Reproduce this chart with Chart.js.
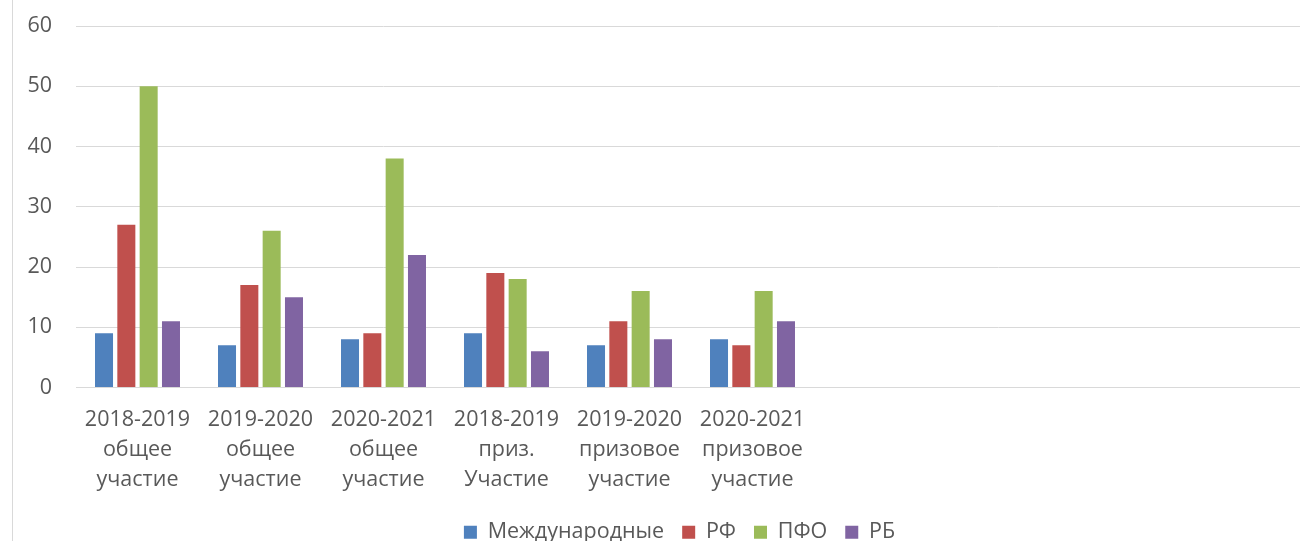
<!DOCTYPE html>
<html>
<head>
<meta charset="utf-8">
<script src="https://cdn.jsdelivr.net/npm/chart.js@4.4.1/dist/chart.umd.min.js"></script>
<style>
  html, body { margin: 0; padding: 0; background: #fff; overflow: hidden; width: 1300px; height: 541px; }
  #frame { position: absolute; left: 12px; top: 0; width: 1px; height: 541px; background: #d9d9d9; }
  #wrap { position: absolute; left: 13px; top: 0; width: 1293px; height: 541px; }
</style>
</head>
<body>
<div id="frame"></div>
<div id="wrap"><canvas id="c" width="1293" height="541"></canvas></div>
<script>
const categories = [
  ['2018-2019', 'общее', 'участие'],
  ['2019-2020', 'общее', 'участие'],
  ['2020-2021', 'общее', 'участие'],
  ['2018-2019', 'приз.', 'Участие'],
  ['2019-2020', 'призовое', 'участие'],
  ['2020-2021', 'призовое', 'участие'],
  '', '', '', ''
];
const seriesNames = ['Международные', 'РФ', 'ПФО', 'РБ'];
const intl = [9, 7, 8, 9, 7, 8, null, null, null, null];
const rf   = [27, 17, 9, 19, 11, 7, null, null, null, null];
const pfo  = [50, 26, 38, 18, 16, 16, null, null, null, null];
const rb   = [11, 15, 22, 6, 8, 11, null, null, null, null];
const yTicks = [0, 10, 20, 30, 40, 50, 60];
const colors = ['#4F81BD', '#C0504D', '#9BBB59', '#8064A2'];

const FONT = '"Open Sans", "Noto Sans", sans-serif';
const values = [intl, rf, pfo, rb];

const legendShift = {
  id: 'legendShift',
  afterLayout(chart) {
    if (chart.legend) { chart.legend.left += 20; chart.legend.right += 20; }
  }
};

new Chart(document.getElementById('c'), {
  type: 'bar',
  data: {
    labels: categories,
    datasets: values.map((v, i) => ({
      label: seriesNames[i],
      data: v,
      backgroundColor: colors[i],
      borderWidth: 0,
      categoryPercentage: 0.726,
      barPercentage: 0.807
    }))
  },
  plugins: [legendShift],
  options: {
    responsive: false,
    animation: false,
    devicePixelRatio: 1,
    layout: { padding: { top: 26, right: 0, left: 0, bottom: -12 } },
    plugins: {
      tooltip: { enabled: false },
      legend: {
        position: 'bottom',
        labels: {
          boxWidth: 13,
          boxHeight: 13,
          padding: 18,
          color: '#595959',
          font: { family: FONT, size: 21.5 }
        }
      }
    },
    scales: {
      x: {
        grid: { display: false, drawTicks: false },
        border: { display: true, color: '#d9d9d9', width: 1 },
        ticks: {
          color: '#595959',
          padding: 17,
          maxRotation: 0,
          autoSkip: false,
          font: { family: FONT, size: 21.5, lineHeight: 1.4 }
        },
        afterFit(scale) { scale.height = 116; }
      },
      y: {
        min: 0, max: 60,
        afterBuildTicks(scale) { scale.ticks = yTicks.map(v => ({ value: v })); },
        grid: { color: '#d9d9d9', lineWidth: 1, drawTicks: false },
        border: { display: false },
        ticks: {
          color: '#595959',
          padding: 24,
          font: { family: FONT, size: 21.5 }
        },
        afterFit(scale) { scale.width = 63; scale.paddingTop = 0; scale.paddingBottom = 0; }
      }
    }
  }
});
</script>
</body>
</html>
